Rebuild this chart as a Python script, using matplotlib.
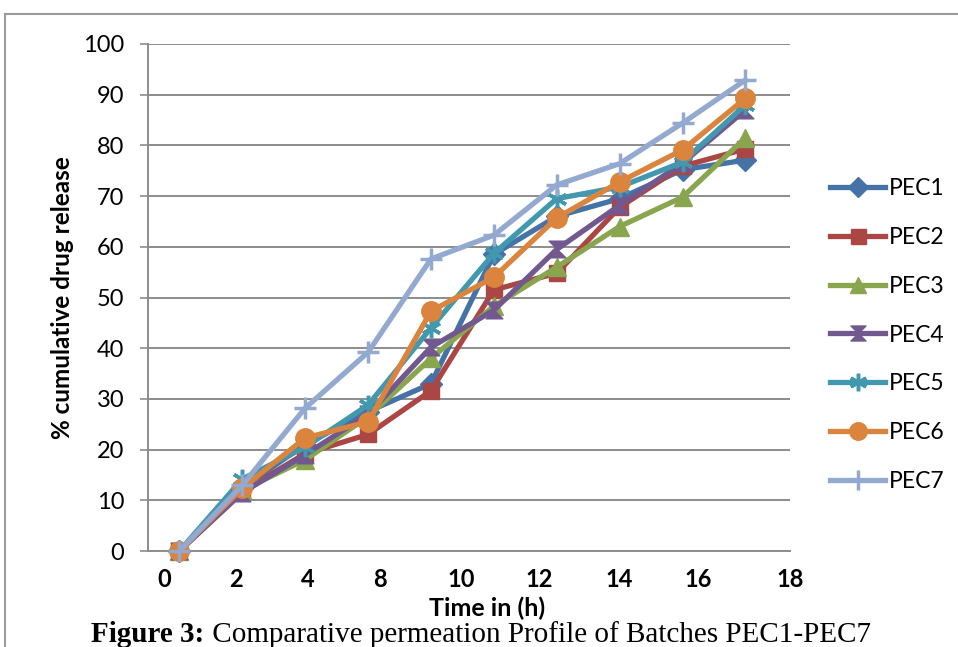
import matplotlib
matplotlib.use("Agg")
import matplotlib.pyplot as plt
from matplotlib.lines import Line2D
from matplotlib.path import Path
import numpy as np

# ---- data ----
series_names = ["PEC1", "PEC2", "PEC3", "PEC4", "PEC5", "PEC6", "PEC7"]
PEC1 = [0, 12.5, 21.0, 27.5, 33.0, 58.5, 66.0, 69.5, 75.2, 77.1]
PEC2 = [0, 11.8, 19.2, 23.0, 31.6, 51.5, 54.8, 67.8, 75.9, 79.3]
PEC3 = [0, 12.0, 18.0, 26.5, 38.0, 48.3, 56.0, 64.0, 69.8, 81.5]
PEC4 = [0, 11.5, 19.0, 27.0, 40.2, 47.5, 59.5, 68.2, 76.5, 87.0]
PEC5 = [0, 14.2, 20.5, 28.8, 44.0, 58.7, 69.5, 71.8, 76.7, 88.0]
PEC6 = [0, 12.4, 22.3, 25.5, 47.3, 54.0, 65.7, 72.8, 79.1, 89.3]
PEC7 = [0, 13.0, 28.2, 39.2, 57.6, 62.3, 72.2, 76.4, 84.4, 92.9]
x_tick_labels = ["0", "2", "4", "8", "10", "12", "14", "16", "18"]
y_ticks = [0, 10, 20, 30, 40, 50, 60, 70, 80, 90, 100]

series = [PEC1, PEC2, PEC3, PEC4, PEC5, PEC6, PEC7]
colors = ["#4572A7", "#AA4643", "#89A54E", "#71588F", "#4198AF", "#DB843D", "#93A9CF"]

hourglass = Path([(-1, 1), (1, 1), (-1, -1), (1, -1), (-1, 1)],
                 [Path.MOVETO, Path.LINETO, Path.LINETO, Path.LINETO, Path.CLOSEPOLY])
markers = ["D", "s", "^", hourglass, (6, 2, 0), "o", "+"]
msizes = [11, 12, 13, 12, 14, 14, 16]

FONT = "Lato"
W, H = 958, 647
fig = plt.figure(figsize=(W / 100, H / 100), dpi=100)
ax = fig.add_axes([148 / W, 1 - 551 / H, 642 / W, 507 / H])

xs = np.arange(len(PEC1))
for name, vals, c, m, ms in zip(series_names, series, colors, markers, msizes):
    mew = 2.5 if m in ("+", (6, 2, 0)) else 1.0
    ax.plot(xs, vals, color=c, lw=3.8, marker=m, markersize=ms,
            markerfacecolor=c, markeredgecolor=c, markeredgewidth=mew,
            label=name, clip_on=False, zorder=3, solid_joinstyle="round")

ax.set_xlim(-0.5, len(PEC1) - 0.5)
ax.set_ylim(0, 100)
ax.set_yticks(y_ticks)
ax.set_yticklabels([str(v) for v in y_ticks], fontsize=17, family=FONT)
ax.yaxis.grid(True, color="#8c8c8c", lw=1.4)
ax.set_axisbelow(True)
ax.tick_params(axis="y", direction="out", length=6, width=1.2, color="#8c8c8c", pad=11)

# x tick labels (positions, in category units)
label_pos = [-0.235, 0.894, 2.039, 3.192, 4.477, 5.722, 6.992, 8.254, 9.709]
ax.set_xticks(label_pos)
ax.set_xticklabels(x_tick_labels, fontsize=17, fontweight="bold", family=FONT)
ax.tick_params(axis="x", length=0, pad=12)

for s in ["top", "right"]:
    ax.spines[s].set_visible(False)
for s in ["left", "bottom"]:
    ax.spines[s].set_color("#8c8c8c")
    ax.spines[s].set_linewidth(1.4)

fig.text(63 / W, 1 - 298 / H, "% cumulative drug release", rotation=90,
         ha="center", va="center", fontsize=17.5, fontweight="bold", family=FONT)
fig.text(487 / W, 1 - 608 / H, "Time in (h)", ha="center", va="center",
         fontsize=18, fontweight="bold", family=FONT)

leg = ax.legend(loc="center left", bbox_to_anchor=(830 / W, 1 - 335 / H),
                bbox_transform=fig.transFigure, frameon=False,
                prop={"family": FONT, "size": 16.5}, labelspacing=1.22,
                handlelength=2.4, handletextpad=0.17, borderpad=0,
                borderaxespad=0, markerscale=0.9)

# outer frame
fig.add_artist(Line2D([5 / W, 1], [1 - 14 / H, 1 - 14 / H], transform=fig.transFigure,
                      color="#9a9a9a", lw=1.5))
fig.add_artist(Line2D([5 / W, 5 / W], [0, 1 - 14 / H], transform=fig.transFigure,
                      color="#9a9a9a", lw=1.5))

# caption
fig.canvas.draw()
r = fig.canvas.get_renderer()
cap_y = 1 - 642 / H
t1 = fig.text(0, cap_y, "Figure 3:", fontsize=21, fontweight="bold",
              family="Liberation Serif", va="baseline")
t2 = fig.text(0, cap_y, " Comparative permeation Profile of Batches PEC1-PEC7", fontsize=21,
              family="Liberation Serif", va="baseline")
w1 = t1.get_window_extent(r).width
w2 = t2.get_window_extent(r).width
x0 = 481 - (w1 + w2) / 2
t1.set_x(x0 / W)
t2.set_x((x0 + w1) / W)

fig.savefig("out.png", dpi=100)
